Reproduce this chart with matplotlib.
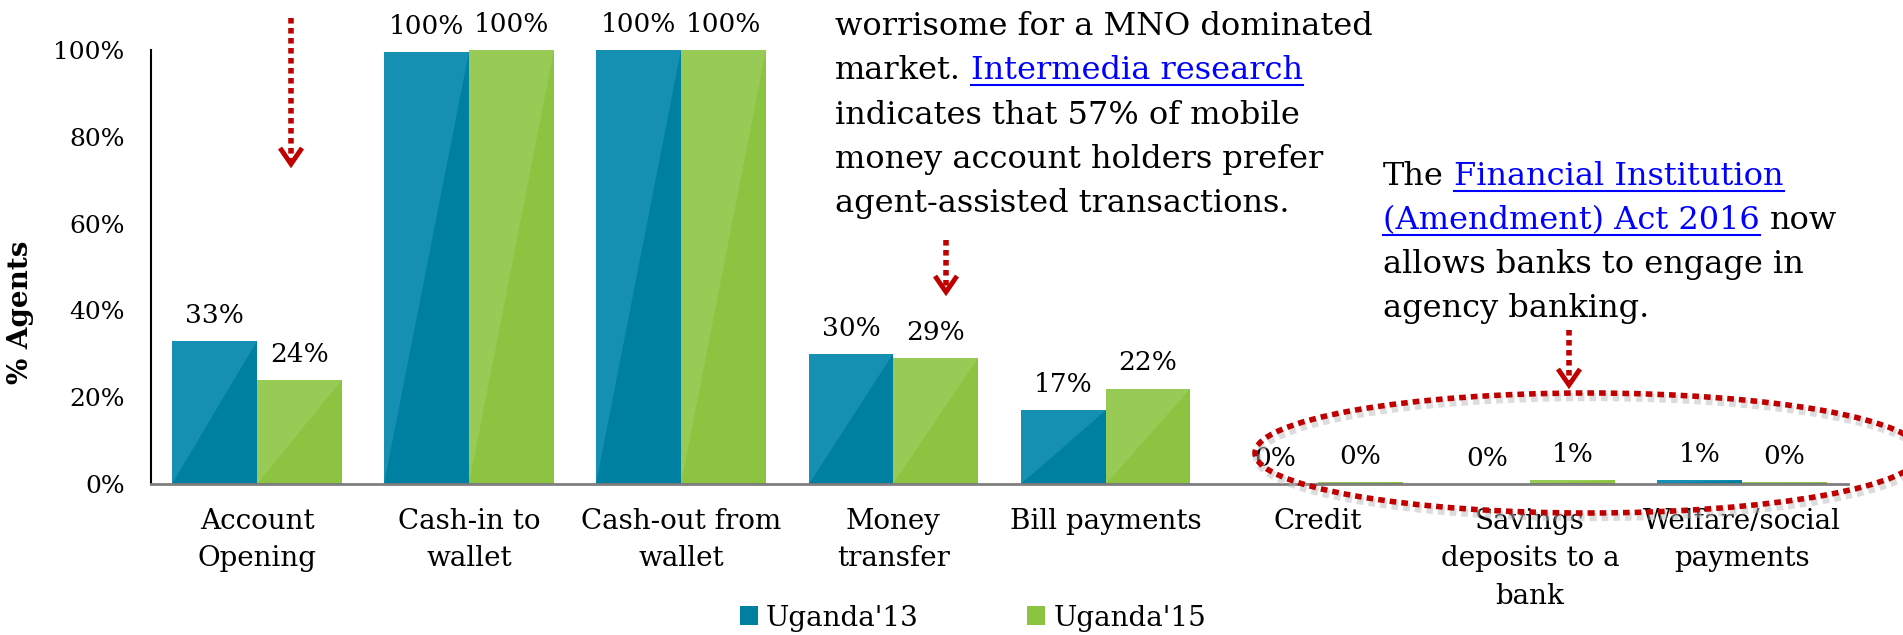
import numpy as np
import matplotlib.pyplot as plt
from matplotlib.patches import Ellipse, Polygon
from matplotlib.lines import Line2D

plt.rcParams['font.family'] = ['DejaVu Serif']

categories = ["Account\nOpening", "Cash-in to\nwallet", "Cash-out from\nwallet", "Money\ntransfer",
              "Bill payments", "Credit", "Savings\ndeposits to a\nbank", "Welfare/social\npayments"]
uganda13 = [0.33, 0.996, 1.00, 0.30, 0.17, 0.0, 0.0, 0.01]
uganda15 = [0.24, 1.00, 1.00, 0.29, 0.22, 0.004, 0.01, 0.004]
series_names = ["Uganda'13", "Uganda'15"]
yticks = [0, 0.2, 0.4, 0.6, 0.8, 1.0]

BLUE, BLUE_LIGHT, BLUE_EDGE = '#0080A0', '#1590B2', '#00485C'
GREEN, GREEN_LIGHT, GREEN_EDGE = '#8CC441', '#97CB55', '#4E7A25'
RED = '#C00000'
LINK = '#0000FF'

W, H = 1903, 635


def fx(x):
    return x / W


def fy(y):
    return 1 - y / H


fig = plt.figure(figsize=(W / 100, H / 100), dpi=100)
ax = fig.add_axes([fx(151), fy(484), (1848 - 151) / W, 434 / H])

x = np.arange(len(categories))
bw = 0.4
b13 = ax.bar(x - bw / 2, uganda13, bw, color=BLUE, label=series_names[0], zorder=2)
b15 = ax.bar(x + bw / 2, uganda15, bw, color=GREEN, label=series_names[1], zorder=2)

# shine triangle + dark foot on every bar
for bars, light, edge in ((b13, BLUE_LIGHT, BLUE_EDGE), (b15, GREEN_LIGHT, GREEN_EDGE)):
    for p in bars:
        x0, w, h = p.get_x(), p.get_width(), p.get_height()
        if h > 0:
            ax.add_patch(Polygon([(x0, 0), (x0, h), (x0 + w, h)], closed=True,
                                 color=light, lw=0, zorder=2.1))
            ax.plot([x0, x0 + w], [0, 0], color=edge, lw=2, solid_capstyle='butt', zorder=2.3)
        ax.annotate(f"{h:.0%}", (x0 + w / 2, h), xytext=(0, 13), textcoords='offset points',
                    ha='center', va='baseline', fontsize=19)

ax.set_xlim(-0.5, 7.5)
ax.set_ylim(0, 1)
ax.set_xticks(x)
ax.set_xticklabels(categories, fontsize=20, linespacing=1.5, va='top')
ax.set_yticks(yticks)
ax.set_yticklabels([f"{t:.0%}" for t in yticks], fontsize=18)
ax.tick_params(axis='x', length=0, pad=17)
ax.tick_params(axis='y', length=0, pad=19)
for s in ('top', 'right'):
    ax.spines[s].set_visible(False)
ax.spines['left'].set_color('black')
ax.spines['left'].set_linewidth(1.5)
ax.spines['bottom'].set_color('#7F7F7F')
ax.spines['bottom'].set_linewidth(2)

fig.text(fx(20), fy(312), '% Agents', rotation=90, fontweight='bold',
         ha='center', va='center', fontsize=20)

ax.legend(loc='center', bbox_to_anchor=(fx(973), fy(618)), bbox_transform=fig.transFigure,
          ncol=2, frameon=False, fontsize=20, handlelength=0.65, handleheight=0.65,
          handletextpad=0.3, columnspacing=3.9, borderpad=0)

# annotation text with blue underlined links
renderer = fig.canvas.get_renderer()
ANN = 23


def text_width(s):
    t = fig.text(0, 0, s, fontsize=ANN)
    w = t.get_window_extent(renderer).width
    t.remove()
    return w


space = text_width("x x") - text_width("xx")


def rich_line(xp, yp, parts):
    cur = xp
    for s, link in parts:
        t = fig.text(fx(cur), fy(yp), s, fontsize=ANN, color=LINK if link else 'black',
                     ha='left', va='baseline')
        bb = t.get_window_extent(renderer)
        if link:
            fig.add_artist(Line2D([fx(bb.x0), fx(bb.x1)], [fy(yp + 6)] * 2, color=LINK, lw=1.5))
        cur = bb.x1 + space


left_lines = [
    [("worrisome for a MNO dominated", False)],
    [("market.", False), ("Intermedia research", True)],
    [("indicates that 57% of mobile", False)],
    [("money account holders prefer", False)],
    [("agent-assisted transactions.", False)],
]
right_lines = [
    [("The", False), ("Financial Institution", True)],
    [("(Amendment) Act 2016", True), ("now", False)],
    [("allows banks to engage in", False)],
    [("agency banking.", False)],
]
for i, parts in enumerate(left_lines):
    rich_line(835, 35 + 44.3 * i, parts)
for i, parts in enumerate(right_lines):
    rich_line(1383, 185 + 44 * i, parts)


def arrow(xp, y0, y1):
    fig.add_artist(Line2D([fx(xp)] * 2, [fy(y0), fy(y1 - 8)], color=RED, lw=4,
                          linestyle=(0, (1, 0.8)), dash_capstyle='butt'))
    fig.add_artist(Line2D([fx(xp - 11), fx(xp), fx(xp + 11)], [fy(y1 - 20), fy(y1 - 4), fy(y1 - 20)],
                          color=RED, lw=3.5, solid_joinstyle='miter', solid_capstyle='butt'))


arrow(291, 18, 168)
arrow(946, 240, 296)
arrow(1569, 330, 389)

fig.add_artist(Ellipse((fx(1590), fy(457)), 666 / W, 120 / H, transform=fig.transFigure,
                       fill=False, ec='#BBBBBB', lw=6, alpha=0.5, linestyle=(0, (0.8, 0.6))))
fig.add_artist(Ellipse((fx(1588), fy(453)), 666 / W, 120 / H, transform=fig.transFigure,
                       fill=False, ec=RED, lw=4, linestyle=(0, (1.2, 0.9))))

fig.savefig('out.png', dpi=100)
